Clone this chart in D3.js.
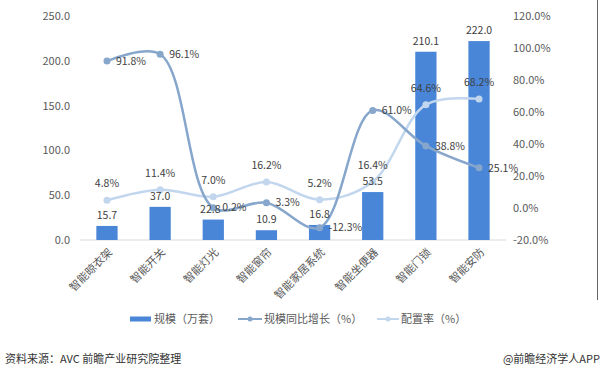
<!DOCTYPE html>
<html lang="zh">
<head>
<meta charset="UTF-8">
<title>智能家居</title>
<script src="https://cdn.jsdelivr.net/npm/d3@7/dist/d3.min.js"></script>
<style>
  html, body { margin: 0; padding: 0; background: #fff; }
  svg { display: block; }
  text { font-family: "Noto Sans CJK SC", "DejaVu Sans", sans-serif; fill: #595959; font-size: 11px; }
  .val { font-size: 10.5px; fill: #404040; }
  .foot { fill: #333; }
</style>
</head>
<body>
<svg id="chart" width="600" height="376"></svg>
<script>
  // data
  const categories = ['智能晾衣架', '智能开关', '智能灯光', '智能窗帘', '智能家居系统', '智能坐便器', '智能门锁', '智能安防']
  const scale = [15.7, 37.0, 22.8, 10.9, 16.8, 53.5, 210.1, 222.0]
  const growth = [91.8, 96.1, 0.2, 3.3, -12.3, 61.0, 38.8, 25.1]
  const rate = [4.8, 11.4, 7.0, 16.2, 5.2, 16.4, 64.6, 68.2]
  const leftTicks = [0, 50, 100, 150, 200, 250]
  const rightTicks = [-20, 0, 20, 40, 60, 80, 100, 120]

  const BAR = '#4a86d8'
  const GROWTH = '#86a6cc'
  const RATE = '#c2d6ee'

  const svg = d3.select('#chart')

  const x = d3.scaleBand()
    .domain(categories)
    .range([80.4, 505.6])
    .paddingInner(0.6)
    .paddingOuter(0.3)
  const yL = d3.scaleLinear().domain([0, 250]).range([240, 16])
  const yR = d3.scaleLinear().domain([-20, 120]).range([240, 16])
  const cx = d => x(d) + x.bandwidth() / 2

  // axes
  const left = svg.append('g')
    .attr('transform', 'translate(70,0)')
    .call(d3.axisLeft(yL).tickValues(leftTicks).tickSize(0).tickPadding(0).tickFormat(d3.format('.1f')))
  left.select('.domain').remove()
  left.selectAll('text').style('font-size', '11px').attr('fill', '#595959')

  const right = svg.append('g')
    .attr('transform', 'translate(513,0)')
    .call(d3.axisRight(yR).tickValues(rightTicks).tickSize(0).tickPadding(0).tickFormat(d => d.toFixed(1) + '%'))
  right.select('.domain').remove()
  right.selectAll('text').style('font-size', '11px').attr('fill', '#595959')

  svg.append('line')
    .attr('x1', 80).attr('x2', 506)
    .attr('y1', yL(0)).attr('y2', yL(0))
    .attr('stroke', '#d9d9d9').attr('stroke-width', 1)

  const xAxis = svg.append('g')
    .attr('transform', `translate(0,${yL(0)})`)
    .call(d3.axisBottom(x).tickSize(0).tickPadding(0))
  xAxis.select('.domain').remove()
  xAxis.selectAll('text')
    .style('font-size', '11px')
    .attr('fill', '#595959')
    .attr('text-anchor', 'end')
    .attr('dy', null)
    .attr('transform', 'translate(6,13) rotate(-45)')

  // bars
  svg.append('g').selectAll('rect')
    .data(scale)
    .join('rect')
    .attr('x', (d, i) => x(categories[i]))
    .attr('width', x.bandwidth())
    .attr('y', d => yL(d))
    .attr('height', d => yL(0) - yL(d))
    .attr('fill', BAR)

  // lines
  const line = yScale => d3.line()
    .x((d, i) => cx(categories[i]))
    .y(d => yScale(d))
    .curve(d3.curveCatmullRom.alpha(0.5))

  svg.append('path')
    .datum(rate)
    .attr('d', line(yR))
    .attr('fill', 'none')
    .attr('stroke', RATE)
    .attr('stroke-width', 2.5)

  svg.append('path')
    .datum(growth)
    .attr('d', line(yR))
    .attr('fill', 'none')
    .attr('stroke', GROWTH)
    .attr('stroke-width', 2.5)

  svg.append('g').selectAll('circle')
    .data(rate)
    .join('circle')
    .attr('cx', (d, i) => cx(categories[i]))
    .attr('cy', d => yR(d))
    .attr('r', 3.5)
    .attr('fill', RATE)

  svg.append('g').selectAll('circle')
    .data(growth)
    .join('circle')
    .attr('cx', (d, i) => cx(categories[i]))
    .attr('cy', d => yR(d))
    .attr('r', 3.5)
    .attr('fill', GROWTH)

  // value labels
  svg.append('g').selectAll('text')
    .data(scale)
    .join('text')
    .attr('class', 'val')
    .attr('x', (d, i) => cx(categories[i]) - (i === 2 ? 3 : 0))
    .attr('y', d => yL(d) - 7)
    .attr('text-anchor', 'middle')
    .text(d => d.toFixed(1))

  svg.append('g').selectAll('text')
    .data(rate)
    .join('text')
    .attr('class', 'val')
    .attr('x', (d, i) => cx(categories[i]))
    .attr('y', d => yR(d) - 13)
    .attr('text-anchor', 'middle')
    .text(d => d.toFixed(1) + '%')

  svg.append('g').selectAll('text')
    .data(growth)
    .join('text')
    .attr('class', 'val')
    .attr('x', (d, i) => cx(categories[i]) + 9)
    .attr('y', d => yR(d))
    .attr('dy', '0.35em')
    .text(d => d.toFixed(1) + '%')

  // legend
  const lg = svg.append('g').attr('transform', 'translate(0,319)')
  lg.append('rect').attr('x', 130).attr('y', -2.5).attr('width', 21).attr('height', 5).attr('fill', BAR)
  lg.append('text').attr('x', 154).attr('dy', '0.35em').text('规模（万套）')
  lg.append('line').attr('x1', 238).attr('x2', 262).attr('stroke', GROWTH).attr('stroke-width', 2)
  lg.append('circle').attr('cx', 250).attr('r', 2.5).attr('fill', GROWTH)
  lg.append('text').attr('x', 264).attr('dy', '0.35em').text('规模同比增长（%）')
  lg.append('line').attr('x1', 377).attr('x2', 399).attr('stroke', RATE).attr('stroke-width', 2)
  lg.append('circle').attr('cx', 388).attr('r', 2.5).attr('fill', RATE)
  lg.append('text').attr('x', 401).attr('dy', '0.35em').text('配置率（%）')

  // right frame line
  svg.append('line')
    .attr('x1', 597.5).attr('x2', 597.5).attr('y1', 0).attr('y2', 300)
    .attr('stroke', '#666').attr('stroke-width', 1)

  // footer
  svg.append('text').attr('class', 'foot').attr('x', 5).attr('y', 363).text('资料来源：AVC 前瞻产业研究院整理')
  svg.append('text').attr('class', 'foot').attr('x', 600).attr('y', 363).attr('text-anchor', 'end').text('@前瞻经济学人APP')
</script>
</body>
</html>
